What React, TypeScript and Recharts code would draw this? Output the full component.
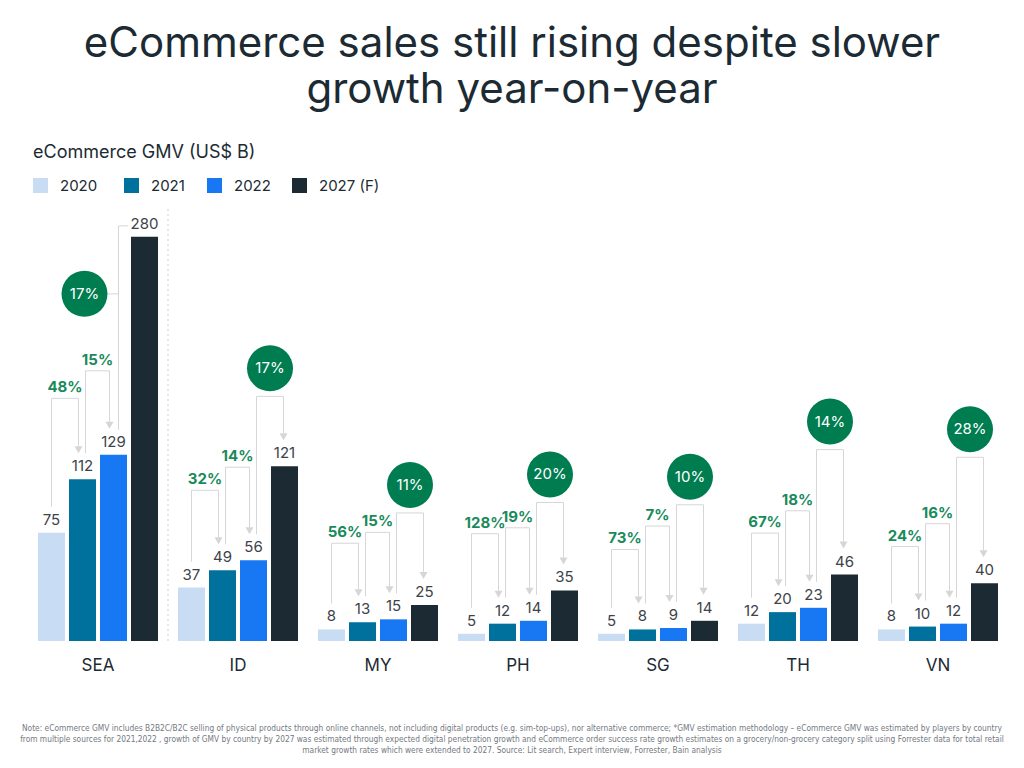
import { BarChart, Bar, XAxis, YAxis, LabelList, ReferenceLine } from 'recharts'

const COUNTRIES = ['SEA', 'ID', 'MY', 'PH', 'SG', 'TH', 'VN']
const GMV_2020 = [75, 37, 8, 5, 5, 12, 8]
const GMV_2021 = [112, 49, 13, 12, 8, 20, 10]
const GMV_2022 = [129, 56, 15, 14, 9, 23, 12]
const GMV_2027 = [280, 121, 25, 35, 14, 46, 40]
const GROWTH_20_21 = ['48%', '32%', '56%', '128%', '73%', '67%', '24%']
const GROWTH_21_22 = ['15%', '14%', '15%', '19%', '7%', '18%', '16%']
const CAGR_22_27 = ['17%', '17%', '11%', '20%', '10%', '14%', '28%']

// bracket heights above the taller bar of each pair, px (hand placed in the original)
const LIFT_A = [81, 80, 79, 90, 80, 79, 80]
const LIFT_B = [84, 93, 87, 93, 102, 97, 100]
const LIFT_C: (number | null)[] = [null, 70, 92, 88, 116, 125, 126]

const FONT = 'Inter, "Noto Sans", sans-serif'
const INK = '#1c2b33'
const LABEL = '#3e4349'
const GREEN = '#1a8a5c'
const CIRCLE = '#007d50'
const LINE = '#d6d6d6'
const BAR_SIZE = 27
const BAR_GAP = 4

const SERIES = [
  { key: 'y2020', name: '2020', color: '#c8dcf4', left: 33 },
  { key: 'y2021', name: '2021', color: '#00709c', left: 124 },
  { key: 'y2022', name: '2022', color: '#1877f2', left: 207 },
  { key: 'y2027', name: '2027 (F)', color: '#1c2b33', left: 292 },
]

const data = COUNTRIES.map((c, i) => ({
  country: c,
  y2020: GMV_2020[i],
  y2021: GMV_2021[i],
  y2022: GMV_2022[i],
  y2027: GMV_2027[i],
}))

function ValueLabel(props: any) {
  const x = Number(props.x) + Number(props.width) / 2
  const y = Number(props.y) - 8
  return (
    <text x={x} y={y} textAnchor="middle" fill={LABEL} fontSize={15}>
      {props.value}
    </text>
  )
}

function LastLabel(props: any) {
  const i = Number(props.index)
  const w = Number(props.width)
  const base = Number(props.y) + Number(props.height)
  const unit = Number(props.height) / Number(props.value)
  const vals = [GMV_2020[i], GMV_2021[i], GMV_2022[i], GMV_2027[i]]
  const tops = vals.map((v) => base - v * unit)
  const cx3 = Number(props.x) + w / 2
  const centers = [0, 1, 2, 3].map((k) => cx3 - (3 - k) * (w + BAR_GAP))

  const bracket = (k: number, lift: number, text: string) => {
    const left = k === 0 ? centers[0] : centers[k] + 3
    const right = k === 2 ? centers[3] - 1 : centers[k + 1] - 4
    const topY = tops[k + 1] - lift
    const legBottom = tops[k] - 26
    const tip = tops[k + 1] - 26
    const mid = (left + right) / 2
    return (
      <g key={k}>
        <polyline
          points={`${left},${legBottom} ${left},${topY} ${right},${topY} ${right},${tip - 7}`}
          fill="none"
          stroke={LINE}
          strokeWidth={1}
        />
        <polygon points={`${right - 4},${tip - 7} ${right + 4},${tip - 7} ${right},${tip}`} fill={LINE} />
        {k < 2 ? (
          <text x={mid} y={topY - 6} textAnchor="middle" fill={GREEN} fontSize={15} fontWeight={700}>
            {text}
          </text>
        ) : (
          <g>
            <circle cx={mid} cy={topY - 28} r={23} fill={CIRCLE} />
            <text x={mid} y={topY - 23} textAnchor="middle" fill="#fff" fontSize={15}>
              {text}
            </text>
          </g>
        )}
      </g>
    )
  }

  const liftC = LIFT_C[i]
  let cagr
  if (liftC == null) {
    // SEA: the bar is too tall, so the circle sits to the side
    const legX = centers[2] + 5
    const topY = tops[3] - 11
    const endX = centers[3] - w / 2 - 3
    const cx = legX - 34
    const cy = tops[3] + 57
    cagr = (
      <g>
        <polyline
          points={`${legX},${tops[2] - 25} ${legX},${topY} ${endX},${topY}`}
          fill="none"
          stroke={LINE}
        />
        <line x1={cx + 23} y1={cy} x2={legX} y2={cy} stroke={LINE} />
        <circle cx={cx} cy={cy} r={23} fill={CIRCLE} />
        <text x={cx} y={cy + 5} textAnchor="middle" fill="#fff" fontSize={15}>
          {CAGR_22_27[i]}
        </text>
      </g>
    )
  } else {
    cagr = bracket(2, liftC, CAGR_22_27[i])
  }

  return (
    <g>
      {bracket(0, LIFT_A[i], GROWTH_20_21[i])}
      {bracket(1, LIFT_B[i], GROWTH_21_22[i])}
      {cagr}
      <ValueLabel {...props} />
    </g>
  )
}

function CountryTick(props: any) {
  return (
    <text x={props.x} y={Number(props.y) + 22} textAnchor="middle" fill={INK} fontSize={17}>
      {props.payload.value}
    </text>
  )
}

export default function App() {
  return (
    <div
      style={{
        position: 'absolute',
        left: 0,
        top: 0,
        width: 1024,
        height: 768,
        background: '#fff',
        fontFamily: FONT,
        color: INK,
        overflow: 'hidden',
      }}
    >
      <div
        style={{
          position: 'absolute',
          top: 19,
          width: 1024,
          textAlign: 'center',
          fontSize: 42,
          lineHeight: '46px',
          fontWeight: 400,
        }}
      >
        eCommerce sales still rising despite slower
        <br />
        growth year-on-year
      </div>
      <div style={{ position: 'absolute', top: 141, left: 33, fontSize: 18 }}>eCommerce GMV (US$ B)</div>
      {SERIES.map((s) => (
        <div
          key={s.key}
          style={{
            position: 'absolute',
            top: 176,
            left: s.left,
            display: 'flex',
            alignItems: 'center',
            fontSize: 15,
            whiteSpace: 'nowrap',
          }}
        >
          <span style={{ width: 15, height: 15, background: s.color, marginRight: 12 }} />
          <span>{s.name}</span>
        </div>
      ))}

      <div style={{ position: 'absolute', left: 0, top: 0 }}>
        <BarChart
          width={1024}
          height={768}
          data={data}
          margin={{ top: 208, right: 16, bottom: 0, left: 28 }}
          barSize={BAR_SIZE}
          barGap={BAR_GAP}
        >
          <XAxis
            dataKey="country"
            height={127}
            axisLine={false}
            tickLine={false}
            interval={0}
            tick={<CountryTick />}
          />
          <YAxis hide domain={[0, 300]} />
          <ReferenceLine x="SEA" position="end" stroke="#cfcfcf" strokeDasharray="2 3" />
          {SERIES.map((s, si) => (
            <Bar key={s.key} dataKey={s.key} fill={s.color} isAnimationActive={false}>
              <LabelList dataKey={s.key} content={si === 3 ? <LastLabel /> : <ValueLabel />} />
            </Bar>
          ))}
        </BarChart>
      </div>

      <div
        style={{
          position: 'absolute',
          top: 723,
          width: 1024,
          textAlign: 'center',
          fontFamily: '"Liberation Sans Narrow", "DejaVu Sans Condensed", sans-serif',
          fontSize: 8.3,
          lineHeight: '11px',
          color: '#74797f',
          whiteSpace: 'nowrap',
        }}
      >
        <div>
          Note: eCommerce GMV includes B2B2C/B2C selling of physical products through online channels, not including
          digital products (e.g. sim-top-ups), nor alternative commerce; *GMV estimation methodology – eCommerce GMV was
          estimated by players by country
        </div>
        <div>
          from multiple sources for 2021,2022 , growth of GMV by country by 2027 was estimated through expected digital
          penetration growth and eCommerce order success rate growth estimates on a grocery/non-grocery category split
          using Forrester data for total retail
        </div>
        <div>
          market growth rates which were extended to 2027. Source: Lit search, Expert interview, Forrester, Bain analysis
        </div>
      </div>
    </div>
  )
}
